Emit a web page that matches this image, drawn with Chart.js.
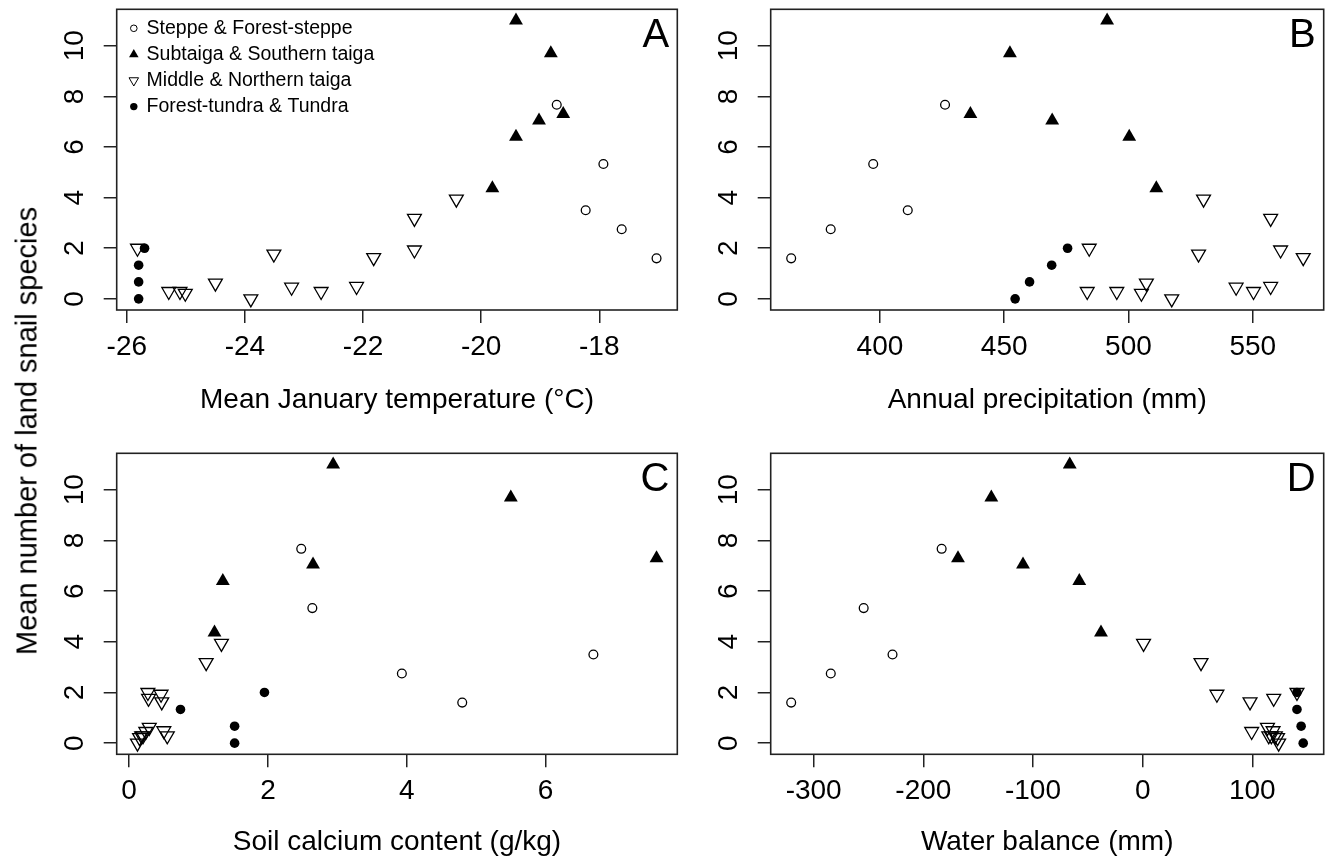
<!DOCTYPE html>
<html><head><meta charset="utf-8">
<script src="https://cdn.jsdelivr.net/npm/chart.js@4.4.0/dist/chart.umd.min.js"></script>
<style>
html,body{margin:0;padding:0;background:#fff;}
#wrap{position:relative;width:1333px;height:862px;overflow:hidden;background:#fff;}
canvas{position:absolute;}
#ytitle{position:absolute;left:27px;top:431px;transform:translate(-50%,-50%) rotate(-90deg);font-family:"Liberation Sans",Arial,sans-serif;font-size:29px;line-height:29px;white-space:nowrap;color:#000;}
</style></head><body>
<div id="wrap">
<canvas id="cA" width="700" height="431" style="left:0;top:0"></canvas>
<canvas id="cB" width="653" height="431" style="left:680px;top:0"></canvas>
<canvas id="cC" width="700" height="431" style="left:0;top:431px"></canvas>
<canvas id="cD" width="653" height="431" style="left:680px;top:431px"></canvas>
<div id="ytitle">Mean number of land snail species</div>
</div>
<script>
// ---- data ----
const groupNames = ['Steppe & Forest-steppe', 'Subtaiga & Southern taiga', 'Middle & Northern taiga', 'Forest-tundra & Tundra'];
const panelTitles = ['Mean January temperature (\u00B0C)', 'Annual precipitation (mm)', 'Soil calcium content (g/kg)', 'Water balance (mm)'];
const panelLetters = ['A', 'B', 'C', 'D'];

const steppeSpecies = [7.67, 5.33, 3.5, 2.75, 1.6];
const steppeJanTemp = [-18.72, -17.93, -18.23, -17.62, -17.03];
const steppePrecip  = [426.2, 397.3, 411.2, 380.2, 364.3];
const steppeCalcium = [2.48, 2.64, 6.69, 3.93, 4.80];
const steppeWater   = [-183.3, -254.4, -228.1, -284.4, -320.5];

const subtaigaSpecies = [11.0, 9.7, 7.3, 7.05, 6.4, 4.37];
const subtaigaJanTemp = [-19.41, -18.82, -18.61, -19.02, -19.41, -19.81];
const subtaigaPrecip  = [491.4, 452.3, 436.4, 469.3, 500.3, 511.2];
const subtaigaCalcium = [2.94, 5.50, 7.60, 2.65, 1.35, 1.23];
const subtaigaWater   = [-66.5, -138.0, -168.4, -109.1, -57.8, -38.0];

const midTaigaSpecies = [2.0, 1.93, 0.29, 0.29, 0.22, 0.62, 0, 1.77, 0.46, 0.29, 0.49, 1.63, 3.18, 3.94];
const midTaigaJanTemp = [-25.82, -21.13, -25.29, -25.10, -25.01, -24.50, -23.90, -23.51, -23.21, -22.71, -22.11, -21.82, -21.13, -20.42];
const midTaigaPrecip  = [484.2, 561.2, 483.4, 495.3, 505.2, 507.2, 517.4, 528.2, 543.3, 550.3, 557.2, 570.3, 557.2, 530.2];
const midTaigaCalcium = [0.27, 0.46, 0.18, 0.55, 0.15, 0.29, 0.12, 0.28, 0.24, 0.20, 0.50, 0.47, 1.11, 1.33];
const midTaigaWater   = [140.7, 67.7, 117.4, 121.0, 123.0, 113.8, 124.0, 119.5, 99.4, 115.0, 118.9, 97.9, 53.2, 0.8];

const tundraSpecies = [0, 0.67, 1.33, 2.0];
const tundraJanTemp = [-25.80, -25.80, -25.80, -25.70];
const tundraPrecip  = [454.4, 460.2, 469.1, 475.5];
const tundraCalcium = [1.52, 1.52, 0.74, 1.95];
const tundraWater   = [146.4, 144.5, 140.7, 140.7];

const speciesTicks = [0, 2, 4, 6, 8, 10];
const janTempTicks = [-26, -24, -22, -20, -18];
const precipTicks  = [400, 450, 500, 550];
const calciumTicks = [0, 2, 4, 6];
const waterTicks   = [-300, -200, -100, 0, 100];

// ---- styling ----
const FONT = '"Liberation Sans", Arial, Helvetica, sans-serif';
const INK = '#222';
const markerStyles = [
  {pointStyle: 'circle',   radius: 4.4, bg: 'rgba(0,0,0,0)', border: '#000', bw: 1.3, rot: 0,   lr: 3.3},
  {pointStyle: 'triangle', radius: 8,   bg: '#000',          border: '#000', bw: 0,   rot: 0,   lr: 5.5},
  {pointStyle: 'triangle', radius: 8,   bg: 'rgba(0,0,0,0)', border: '#000', bw: 1.3, rot: 180, lr: 5.5},
  {pointStyle: 'circle',   radius: 4.8, bg: '#000',          border: '#000', bw: 0,   rot: 0,   lr: 3.7}
];

function rRange(arrays) {
  const all = [].concat(...arrays);
  const mn = Math.min(...all), mx = Math.max(...all);
  const d = (mx - mn) * 0.04;
  return [mn - d, mx + d];
}

function drawSymbol(ctx, st, x, y, r) {
  ctx.beginPath();
  if (st.pointStyle === 'circle') {
    ctx.arc(x, y, r, 0, Math.PI * 2);
  } else {
    let rad = st.rot * Math.PI / 180;
    ctx.moveTo(x + Math.sin(rad) * r, y - Math.cos(rad) * r);
    rad += 2 * Math.PI / 3;
    ctx.lineTo(x + Math.sin(rad) * r, y - Math.cos(rad) * r);
    rad += 2 * Math.PI / 3;
    ctx.lineTo(x + Math.sin(rad) * r, y - Math.cos(rad) * r);
    ctx.closePath();
  }
  ctx.fillStyle = st.bg;
  ctx.fill();
  if (st.bw > 0) { ctx.lineWidth = 1; ctx.strokeStyle = st.border; ctx.stroke(); }
}

const framePlugin = {
  id: 'frame',
  afterDraw(chart, args, opts) {
    const ctx = chart.ctx, a = chart.chartArea;
    ctx.save();
    ctx.strokeStyle = INK;
    ctx.lineWidth = 1.6;
    ctx.strokeRect(a.left, a.top, a.right - a.left, a.bottom - a.top);
    ctx.fillStyle = '#000';
    ctx.font = '40px ' + FONT;
    ctx.textAlign = 'right';
    ctx.textBaseline = 'alphabetic';
    ctx.fillText(opts.letter, a.right - 8, a.top + 37.6);
    if (opts.legend) {
      ctx.font = '19.5px ' + FONT;
      ctx.textAlign = 'left';
      ctx.textBaseline = 'middle';
      chart.data.datasets.forEach((ds, i) => {
        const y = a.top + 19 + i * 26.1;
        drawSymbol(ctx, markerStyles[i], a.left + 17.1, y, markerStyles[i].lr);
        ctx.fillStyle = '#000';
        ctx.fillText(ds.label, a.left + 29.9, y);
      });
    }
    ctx.restore();
  }
};

const ySpecies = [steppeSpecies, subtaigaSpecies, midTaigaSpecies, tundraSpecies];

function makeChart(id, xs, xTicks, title, letter, geom, legend) {
  const datasets = groupNames.map((name, g) => {
    const st = markerStyles[g];
    return {
      label: name,
      data: xs[g].map((x, i) => ({x: x, y: ySpecies[g][i]})),
      pointStyle: st.pointStyle,
      pointRadius: st.radius,
      pointHoverRadius: st.radius,
      pointBackgroundColor: st.bg,
      pointBorderColor: st.border,
      pointBorderWidth: st.bw,
      pointRotation: st.rot,
      showLine: false,
      order: 3 - g
    };
  });
  const [xmin, xmax] = rRange(xs);
  const [ymin, ymax] = rRange(ySpecies);
  const tickFont = {family: FONT, size: 28, lineHeight: 1.2};
  const gridOpts = {display: true, drawOnChartArea: false, drawTicks: true, tickLength: 13, color: INK, lineWidth: 1.5};
  const zeroPad = s => { s.paddingLeft = 0; s.paddingRight = 0; s.paddingTop = 0; s.paddingBottom = 0; };
  return new Chart(document.getElementById(id), {
    type: 'scatter',
    data: {datasets},
    options: {
      responsive: false,
      animation: false,
      devicePixelRatio: 1,
      events: [],
      layout: {padding: geom.padding},
      plugins: {legend: {display: false}, tooltip: {enabled: false}, frame: {letter: letter, legend: legend}},
      scales: {
        x: {
          type: 'linear', position: 'bottom', min: xmin, max: xmax,
          afterBuildTicks: s => { s.ticks = xTicks.map(v => ({value: v})); },
          afterFit: s => { s.height = geom.xHeight; zeroPad(s); },
          grid: gridOpts,
          border: {display: false},
          ticks: {autoSkip: false, maxRotation: 0, minRotation: 0, padding: 7.5, color: '#000', font: tickFont, callback: v => String(v)},
          title: {display: true, text: title, color: '#000', font: tickFont, padding: {top: 0, bottom: geom.titlePad}}
        },
        y: {
          type: 'linear', position: 'left', min: ymin, max: ymax,
          afterBuildTicks: s => { s.ticks = speciesTicks.map(v => ({value: v})); },
          afterFit: s => { s.width = geom.yWidth; zeroPad(s); },
          grid: gridOpts,
          border: {display: false},
          ticks: {autoSkip: false, minRotation: 90, maxRotation: 90, crossAlign: 'center', padding: 12.8, color: '#000', font: tickFont, callback: v => String(v)}
        }
      }
    },
    plugins: [framePlugin]
  });
}

makeChart('cA', [steppeJanTemp, subtaigaJanTemp, midTaigaJanTemp, tundraJanTemp], janTempTicks, panelTitles[0], panelLetters[0],
  {padding: {left: 0, top: 8.3, right: 22.7, bottom: 0}, yWidth: 116.7, xHeight: 121, titlePad: 14.2}, true);
makeChart('cB', [steppePrecip, subtaigaPrecip, midTaigaPrecip, tundraPrecip], precipTicks, panelTitles[1], panelLetters[1],
  {padding: {left: 0, top: 8.3, right: 1.5, bottom: 0}, yWidth: 90.7, xHeight: 121, titlePad: 14.2}, false);
makeChart('cC', [steppeCalcium, subtaigaCalcium, midTaigaCalcium, tundraCalcium], calciumTicks, panelTitles[2], panelLetters[2],
  {padding: {left: 0, top: 22.3, right: 22.7, bottom: 0}, yWidth: 116.7, xHeight: 107.7, titlePad: 2.6}, false);
makeChart('cD', [steppeWater, subtaigaWater, midTaigaWater, tundraWater], waterTicks, panelTitles[3], panelLetters[3],
  {padding: {left: 0, top: 22.3, right: 2, bottom: 0}, yWidth: 90.7, xHeight: 107.7, titlePad: 2.6}, false);
</script>
</body></html>
